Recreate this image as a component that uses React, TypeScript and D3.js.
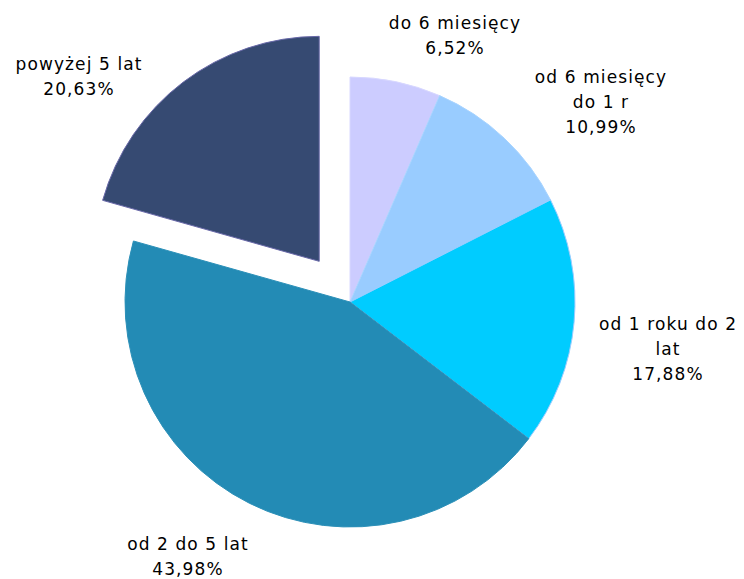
import React from "react";
import * as d3 from "d3";

const categories: string[][] = [
  ["do 6 miesięcy"],
  ["od 6 miesięcy", "do 1 r"],
  ["od 1 roku do 2", "lat"],
  ["od 2 do 5 lat"],
  ["powyżej 5 lat"],
];
const values: number[] = [6.52, 10.99, 17.88, 43.98, 20.63];
const valueLabels: string[] = ["6,52%", "10,99%", "17,88%", "43,98%", "20,63%"];
const colors: string[] = ["#CCCCFF", "#99CCFF", "#00CCFF", "#238BB5", "#364A72"];
const strokes: string[] = ["#D8D8FF", "#A8D4FF", "#99CCFF", "#2C90B8", "#6868A8"];
const exploded: boolean[] = [false, false, false, false, true];

// label block centers (layout)
const labelCenters: [number, number][] = [
  [455, 35],
  [601, 102],
  [668, 349],
  [188, 556],
  [79, 76],
];

const W = 744;
const H = 579;
const cx = 350;
const cy = 302;
const R = 225;
const explodeDist = 51;
const lineH = 25;

export default function App() {
  const pie = d3.pie<number>().sort(null).value((d) => d).startAngle(0).endAngle(2 * Math.PI);
  const arcs = pie(values);
  const arcGen = d3.arc<d3.PieArcDatum<number>>().innerRadius(0).outerRadius(R);

  return (
    <svg
      width={W}
      height={H}
      style={{ position: "absolute", left: 0, top: 0, background: "#fff" }}
      fontFamily="'DejaVu Sans', Verdana, sans-serif"
    >
      <g transform={`translate(${cx},${cy})`}>
        {arcs.map((a, i) => {
          const mid = (a.startAngle + a.endAngle) / 2;
          const dx = exploded[i] ? Math.sin(mid) * explodeDist : 0;
          const dy = exploded[i] ? -Math.cos(mid) * explodeDist : 0;
          return (
            <path
              key={i}
              d={arcGen(a) || ""}
              transform={`translate(${dx},${dy})`}
              fill={colors[i]}
              stroke={strokes[i]}
              strokeWidth={1}
              strokeLinejoin="round"
            />
          );
        })}
      </g>
      {categories.map((lines, i) => {
        const all = [...lines, valueLabels[i]];
        const [lx, ly] = labelCenters[i];
        const top = ly - ((all.length - 1) * lineH) / 2;
        return (
          <text
            key={i}
            textAnchor="middle"
            fontSize={17}
            letterSpacing={1.1}
            fill="#000"
          >
            {all.map((t, j) => (
              <tspan key={j} x={lx} y={top + j * lineH} dominantBaseline="central">
                {t}
              </tspan>
            ))}
          </text>
        );
      })}
    </svg>
  );
}
